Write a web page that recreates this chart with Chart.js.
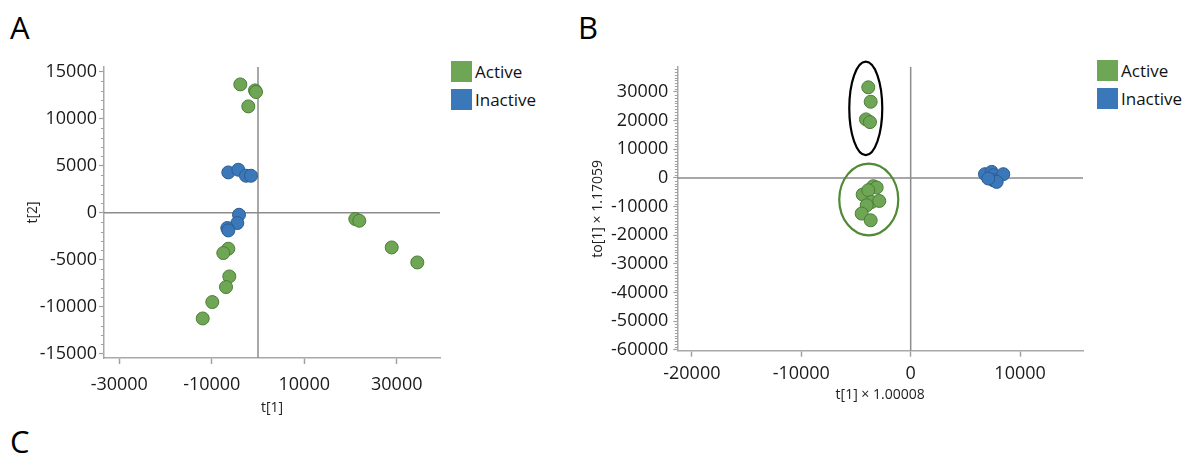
<!DOCTYPE html>
<html><head><meta charset="utf-8">
<script src="https://cdn.jsdelivr.net/npm/chart.js@4.4.1/dist/chart.umd.min.js"></script>
<style>
html,body{margin:0;padding:0;background:#fff;}
body{width:1192px;height:458px;overflow:hidden;position:relative;font-family:"Open Sans",sans-serif;}
.lab{position:absolute;font-size:31px;color:#000;line-height:1;}
.leg{position:absolute;font-size:17px;color:#111;}
.row{display:flex;align-items:center;height:22px;margin-bottom:6px;white-space:nowrap;}
.sw{width:21px;height:21px;margin-right:3px;}
canvas{position:absolute;top:0;}
</style></head><body>
<div class="lab" style="left:10px;top:12px">A</div>
<div class="lab" style="left:578px;top:12px">B</div>
<div class="lab" style="left:10px;top:426px">C</div>
<div class="leg" style="left:451px;top:60px">
  <div class="row"><div class="sw" style="background:#6fa655"></div>Active</div>
  <div class="row"><div class="sw" style="background:#3b78b9"></div>Inactive</div>
</div>
<div class="leg" style="left:1097px;top:59px">
  <div class="row"><div class="sw" style="background:#6fa655"></div>Active</div>
  <div class="row"><div class="sw" style="background:#3b78b9"></div>Inactive</div>
</div>
<canvas id="cA" width="460" height="458" style="left:0px;width:460px;height:458px"></canvas>
<canvas id="cB" width="543" height="458" style="left:560px;width:543px;height:458px"></canvas>
<script>
// ---------- Panel A data ----------
const activeA_x = [-3827, -649, -432, -2097, 21038, 21903, 28908, 34443, -6422, -7503, -6205, -6919, -9881, -11957];
const activeA_y = [13649, 13011, 12840, 11309, -670, -851, -3691, -5287, -3830, -4287, -6776, -7904, -9500, -11245];
const inactiveA_x = [-6422, -4259, -2595, -1514, -4108, -4476, -6638, -6422];
const inactiveA_y = [4287, 4574, 3936, 3936, -213, -1096, -1628, -1883];
const xTicksA = [-30000, -10000, 10000, 30000];
const yTicksA = [-15000, -10000, -5000, 0, 5000, 10000, 15000];
// ---------- Panel B data ----------
const activeB_x = [-3876, -3656, -4086, -3720, -4388, -3419, -3108, -3876, -3565, -2870, -4022, -4479, -3656];
const activeB_y = [31608, 26573, 20420, 19476, -5804, -2902, -3357, -4301, -8392, -8042, -9545, -12448, -14790];
const inactiveB_x = [6792, 7404, 7550, 8464, 7550, 7861, 7093];
const inactiveB_y = [1294, 2098, 944, 1294, -804, -1399, -210];
const xTicksB = [-20000, -10000, 0, 10000];
const yTicksB = [-60000, -50000, -40000, -30000, -20000, -10000, 0, 10000, 20000, 30000];
// ellipses in data units: centre x, centre y, radius x, radius y
const ellipseTop = [-4104, 24266, 1508, 16329];
const ellipseBottom = [-3830, -7517, 2697, 12517];
const seriesNames = ['Active', 'Inactive'];

const GREEN = '#6fa655', GREEN_B = '#4b7d36';
const BLUE = '#3b78b9', BLUE_B = '#2b5d93';
const FONT = '"Open Sans", sans-serif';

function pts(xs, ys) { return xs.map((x, i) => ({x: x, y: ys[i]})); }

const crosshair = {
  id: 'crosshair',
  beforeDatasetsDraw(chart) {
    const {ctx, chartArea: a, scales: {x, y}} = chart;
    const px = x.getPixelForValue(0), py = y.getPixelForValue(0);
    ctx.save();
    ctx.strokeStyle = '#8c8c8c'; ctx.lineWidth = 1.5;
    ctx.beginPath();
    ctx.moveTo(a.left, py); ctx.lineTo(a.right, py);
    ctx.moveTo(px, a.top); ctx.lineTo(px, a.bottom);
    ctx.stroke();
    ctx.restore();
  }
};

const minorTicks = {
  id: 'minorTicks',
  afterDraw(chart, args, o) {
    if (!o || !o.step) return;
    const {ctx, scales: {y}} = chart;
    ctx.save();
    ctx.strokeStyle = '#a0a0a0'; ctx.lineWidth = 1;
    const start = Math.ceil(y.min / o.step) * o.step;
    for (let v = start; v <= y.max; v += o.step) {
      if (v % o.major === 0) continue;
      const py = Math.round(y.getPixelForValue(v)) + 0.5;
      ctx.beginPath(); ctx.moveTo(y.right - o.len, py); ctx.lineTo(y.right, py); ctx.stroke();
    }
    ctx.restore();
  }
};

const ellipses = {
  id: 'ellipses',
  afterDatasetsDraw(chart, args, o) {
    if (!o || !o.list) return;
    const {ctx, scales: {x, y}} = chart;
    ctx.save();
    o.list.forEach(e => {
      const [cx, cy, rx, ry] = e.d;
      const pcx = x.getPixelForValue(cx), pcy = y.getPixelForValue(cy);
      const prx = Math.abs(x.getPixelForValue(cx + rx) - pcx);
      const pry = Math.abs(y.getPixelForValue(cy + ry) - pcy);
      ctx.strokeStyle = e.color; ctx.lineWidth = 2.2;
      ctx.beginPath(); ctx.ellipse(pcx, pcy, prx, pry, 0, 0, Math.PI * 2); ctx.stroke();
    });
    ctx.restore();
  }
};

function dataset(label, data, bg, bd) {
  return {label: label, data: data, backgroundColor: bg, borderColor: bd, borderWidth: 1, pointRadius: 6.5, pointHoverRadius: 6.5};
}

const plain = v => String(v);

function makeChart(id, o) {
  return new Chart(document.getElementById(id), {
    type: 'scatter',
    data: {datasets: [
      dataset(seriesNames[0], pts(o.ax, o.ay), GREEN, GREEN_B),
      dataset(seriesNames[1], pts(o.ix, o.iy), BLUE, BLUE_B)
    ]},
    options: {
      responsive: false, animation: false, devicePixelRatio: 1,
      layout: {padding: {top: 67, right: 20, left: 0, bottom: 0}},
      plugins: {legend: {display: false}, tooltip: {enabled: false},
        minorTicks: o.minor, ellipses: {list: o.ellipses || []}},
      scales: {
        x: {type: 'linear', min: o.xmin, max: o.xmax,
          afterBuildTicks: s => { s.ticks = o.xt.map(v => ({value: v})); },
          afterFit: s => { s.height = o.xh; },
          grid: {drawOnChartArea: false, tickLength: 6, tickColor: '#a0a0a0', tickWidth: 1.5},
          border: {color: '#a8a8a8', width: 1.5},
          ticks: {color: '#1a1a1a', font: {size: 18, family: FONT}, padding: o.xpad, maxRotation: 0, autoSkip: false, callback: plain},
          title: {display: true, text: o.xtitle, color: '#222', font: {size: 14, family: FONT}, padding: {bottom: o.xtpad, top: 0}}
        },
        y: {type: 'linear', min: o.ymin, max: o.ymax,
          afterBuildTicks: s => { s.ticks = o.yt.map(v => ({value: v})); },
          afterFit: s => { s.width = o.yw; },
          grid: {drawOnChartArea: false, tickLength: o.ytl, tickColor: '#a0a0a0', tickWidth: 1.2},
          border: {color: '#a8a8a8', width: 1.5},
          ticks: {color: '#1a1a1a', font: {size: 18, family: FONT}, padding: o.ypad, autoSkip: false, callback: plain},
          title: {display: true, text: o.ytitle, color: '#222', font: {size: 14, family: FONT}, padding: {top: o.ytpad, bottom: 0}}
        }
      }
    },
    plugins: [crosshair, minorTicks, ellipses]
  });
}

makeChart('cA', {ax: activeA_x, ay: activeA_y, ix: inactiveA_x, iy: inactiveA_y,
  xmin: -33300, xmax: 39350, ymin: -15450, ymax: 15500, xt: xTicksA, yt: yTicksA,
  xh: 100, yw: 104, xpad: 10, ypad: 2, ytl: 5, xtpad: 42, ytpad: 25,
  xtitle: 't[1]', ytitle: 't[2]', minor: {step: 1000, major: 5000, len: 3}});

makeChart('cB', {ax: activeB_x, ay: activeB_y, ix: inactiveB_x, iy: inactiveB_y,
  xmin: -21330, xmax: 15750, ymin: -60300, ymax: 38700, xt: xTicksB, yt: yTicksB,
  xh: 107.3, yw: 117.3, xpad: 6, ypad: 5, ytl: 4, xtpad: 55, ytpad: 30,
  xtitle: 't[1] \u00d7 1.00008', ytitle: 'to[1] \u00d7 1.17059', minor: {step: 1000, major: 10000, len: 2.5},
  ellipses: [{d: ellipseTop, color: '#000000'}, {d: ellipseBottom, color: '#4f8a35'}]});
</script>
</body></html>
